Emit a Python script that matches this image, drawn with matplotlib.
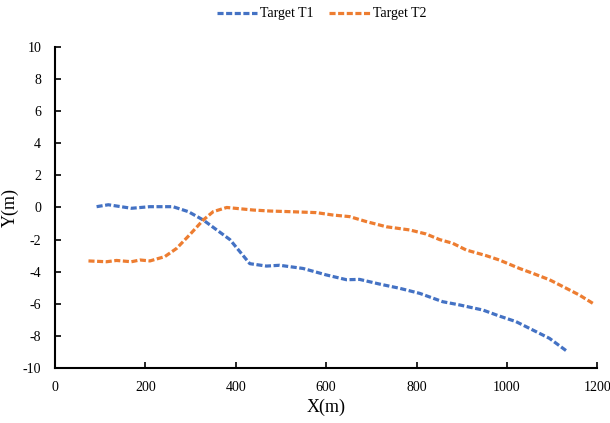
import matplotlib.pyplot as plt

# target tracks
t1_x = [92, 118, 169, 210, 261, 295, 328, 387, 431, 468, 497, 549, 600, 645, 674, 718,
        762, 807, 858, 895, 947, 983, 1020, 1057, 1094, 1134]
t1_y = [0.05, 0.17, -0.05, 0.05, 0.05, -0.26, -0.78, -2.0, -3.5, -3.65, -3.6, -3.8, -4.2,
        -4.5, -4.48, -4.77, -5.03, -5.35, -5.87, -6.07, -6.39, -6.76, -7.11, -7.63, -8.15, -8.98]

t2_x = [74, 114, 136, 169, 188, 210, 243, 269, 298, 328, 350, 380, 417, 439, 475, 519,
        578, 615, 652, 689, 733, 785, 821, 851, 880, 910, 954, 983, 1028, 1057, 1094,
        1131, 1160, 1190]
t2_y = [-3.33, -3.38, -3.3, -3.38, -3.27, -3.33, -3.06, -2.55, -1.7, -0.78, -0.26, 0.0,
        -0.1, -0.16, -0.22, -0.26, -0.32, -0.47, -0.57, -0.88, -1.2, -1.4, -1.65, -2.0,
        -2.23, -2.65, -3.0, -3.27, -3.8, -4.1, -4.5, -5.03, -5.45, -5.97]

plt.rcParams["font.family"] = ["Liberation Serif", "DejaVu Serif"]
plt.rcParams["axes.unicode_minus"] = False

fig = plt.figure(figsize=(6.1, 4.23), dpi=100)
ax = fig.add_axes([0.0902, 0.13, 0.889, 0.759])

dash = (0, (1.9, 0.8))
ax.plot(t1_x, t1_y, color="#4472C4", lw=2.3, ls=dash, label="Target T1")
ax.plot(t2_x, t2_y, color="#ED7D31", lw=2.3, ls=dash, label="Target T2")

ax.set_xlim(0, 1200)
ax.set_ylim(-10, 10)
ax.set_xticks(range(0, 1201, 200))
ax.set_yticks(range(-10, 11, 2))
ax.tick_params(direction="in", length=4, width=1.2, labelsize=10)
ax.tick_params(axis="y", pad=10)
ax.tick_params(axis="x", pad=9)
for s in ["top", "right"]:
    ax.spines[s].set_visible(False)
for s in ["left", "bottom"]:
    ax.spines[s].set_linewidth(1.5)

ax.set_xlabel("X(m)", fontsize=13, labelpad=4)
ax.set_ylabel("Y(m)", fontsize=13, labelpad=3)

fig.legend(loc="upper center", bbox_to_anchor=(0.527, 1.012), ncol=2, frameon=False,
           fontsize=10, handlelength=2.9, columnspacing=1.15, handletextpad=0.2)

fig.savefig("out.png", dpi=100)
